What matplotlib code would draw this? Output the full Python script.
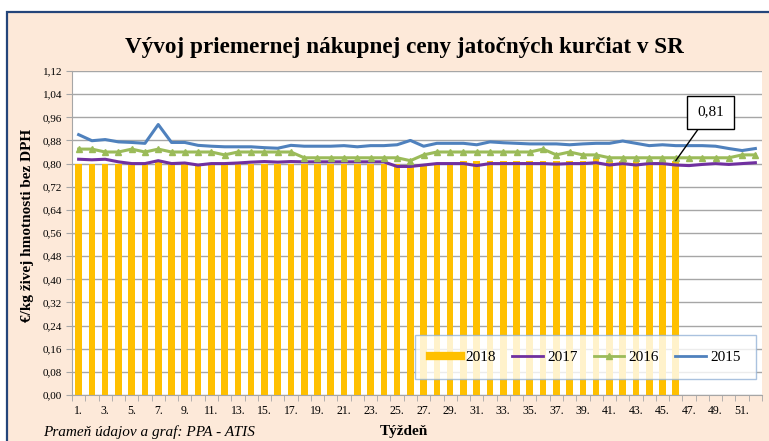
import matplotlib
matplotlib.use("Agg")
import matplotlib.pyplot as plt
from matplotlib.patches import Rectangle
from matplotlib.lines import Line2D
import numpy as np

weeks = list(range(1, 53))
y2018 = [0.80]*6 + [0.81] + [0.80]*22 + [0.81]*10 + [0.82] + [0.81]*6
y2017 = [0.815,0.813,0.815,0.806,0.800,0.800,0.810,0.800,0.802,0.795,0.800,0.800,0.802,0.805,
         0.807,0.805,0.807,0.806,0.806,0.806,0.806,0.806,0.806,0.806,0.790,0.790,0.795,0.800,
         0.800,0.800,0.793,0.800,0.800,0.800,0.800,0.800,0.798,0.800,0.800,0.803,0.795,0.800,
         0.795,0.800,0.800,0.795,0.793,0.797,0.800,0.797,0.800,0.803]
y2016 = [0.85,0.85,0.84,0.84,0.85,0.84,0.85,0.84,0.84,0.84,0.84,0.83,0.84,0.84,0.84,0.84,
         0.84,0.82,0.82,0.82,0.82,0.82,0.82,0.82,0.82,0.81,0.83,0.84,0.84,0.84,0.84,0.84,
         0.84,0.84,0.84,0.85,0.83,0.84,0.83,0.83,0.82,0.82,0.82,0.82,0.82,0.82,0.82,0.82,
         0.82,0.82,0.83,0.83]
y2015 = [0.900,0.879,0.883,0.875,0.873,0.870,0.935,0.873,0.873,0.863,0.860,0.858,0.858,0.858,
         0.855,0.853,0.863,0.860,0.860,0.860,0.862,0.858,0.862,0.862,0.865,0.880,0.860,0.870,
         0.870,0.870,0.865,0.875,0.872,0.870,0.868,0.868,0.868,0.865,0.868,0.870,0.870,0.878,
         0.870,0.862,0.865,0.862,0.862,0.862,0.860,0.852,0.845,0.852]
yticks = [round(0.08*i, 2) for i in range(15)]
title = "Vývoj priemernej nákupnej ceny jatočných kurčiat v SR"
ylabel = "€/kg živej hmotnosti bez DPH"
xlabel = "Týždeň"
source = "Prameň údajov a graf: PPA - ATIS"
ann_week, ann_val, ann_text = 46, 0.81, "0,81"

serif = ["Liberation Serif", "DejaVu Serif"]
plt.rcParams['font.family'] = serif

fig = plt.figure(figsize=(7.69, 4.41), dpi=100)
fig.patch.set_facecolor("white")
bg = Rectangle((7/769, -0.05), 1.2, 1 - 12/441 + 0.05, transform=fig.transFigure,
               facecolor="#FDE9D9", edgecolor="#24457A", lw=1.6, zorder=-10)
fig.patches.append(bg)

ax = fig.add_axes([72/769, 1 - 395/441, 690/769, 324/441])
ax.set_facecolor("white")

ax.bar(weeks[:len(y2018)], y2018, width=0.5, color="#FFC000", zorder=2)
ax.plot(weeks, y2017, color="#7030A0", lw=2.2, zorder=3)
ax.plot(weeks, y2016, color="#9BBB59", lw=2.2, marker="^", ms=5, zorder=3)
ax.plot(weeks, y2015, color="#4F81BD", lw=2.2, zorder=3)

ax.set_xlim(0.5, 52.5)
ax.set_ylim(0, 1.12)
ax.set_yticks(yticks)
ax.set_yticklabels([f"{v:.2f}".replace(".", ",") for v in yticks], fontsize=8)
ax.yaxis.grid(True, color="#A6A6A6", lw=1, zorder=0)
ax.set_axisbelow(True)

ax.set_xticks([w for w in weeks if w % 2 == 1])
ax.set_xticklabels([f"{w}." for w in weeks if w % 2 == 1], fontsize=8.5)
ax.set_xticks(np.arange(0.5, 53, 1), minor=True)
ax.tick_params(axis="x", which="major", length=0, pad=7)
ax.tick_params(axis="x", which="minor", length=4, color="#A6A6A6")
ax.tick_params(axis="y", length=4, color="#A6A6A6", pad=3)

for s in ["top", "right"]:
    ax.spines[s].set_visible(False)
ax.spines["left"].set_color("#A6A6A6")
ax.spines["bottom"].set_color("#A6A6A6")

fig.text(28/769, 1 - 225/441, ylabel, rotation=90, ha="center", va="center",
         fontsize=11, fontweight="bold")
fig.text(404/769, 1 - 48/441, title, ha="center", va="center", fontsize=16.7,
         fontweight="bold")
fig.text(43/769, 1 - 432/441, source, ha="left", va="center", fontsize=11, style="italic")
fig.text(380/769, 1 - 432/441, xlabel, ha="left", va="center", fontsize=11, fontweight="bold")

ax.annotate(ann_text, xy=(ann_week, ann_val), xytext=(48.6, 0.978),
            ha="center", va="center", fontsize=11,
            bbox=dict(boxstyle="square,pad=0.65", fc="white", ec="black", lw=1),
            arrowprops=dict(arrowstyle="-", color="black", lw=1, shrinkA=0, shrinkB=0),
            zorder=5)

handles = [Line2D([], [], color="#FFC000", lw=6),
           Line2D([], [], color="#7030A0", lw=2),
           Line2D([], [], color="#9BBB59", lw=2, marker="^", ms=5),
           Line2D([], [], color="#4F81BD", lw=2)]
leg = ax.legend(handles, ["2018", "2017", "2016", "2015"], ncol=4,
                bbox_to_anchor=((415 - 72) / 690, (395 - 335) / 324), loc="upper left",
                fontsize=11, frameon=True, fancybox=False, handlelength=2.0,
                borderaxespad=0, borderpad=1.0, columnspacing=1.05, handletextpad=0.3)
leg.get_frame().set_edgecolor("#95B3D7")
leg.get_frame().set_linewidth(1)
leg.set_zorder(6)

fig.savefig("out.png", dpi=100, facecolor=fig.get_facecolor())
